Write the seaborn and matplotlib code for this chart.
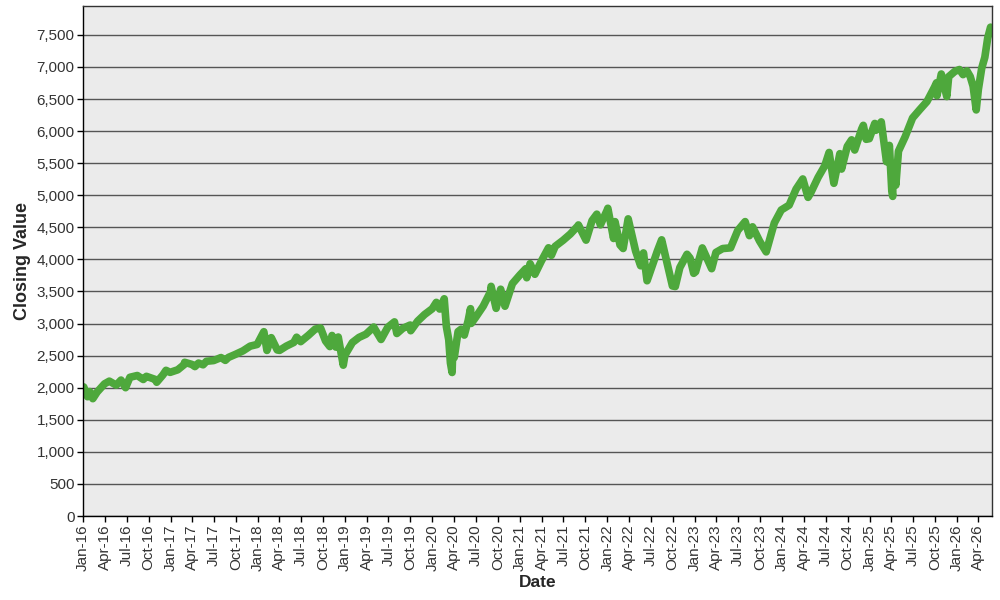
import pandas as pd
import matplotlib
matplotlib.use("Agg")
import matplotlib.pyplot as plt
import matplotlib.dates as mdates
import matplotlib.ticker as mticker
import seaborn as sns

# Closing values (key turning points, roughly biweekly)
dates = [
    "2016-01-04", "2016-01-20", "2016-01-29", "2016-02-11", "2016-02-29", "2016-03-31",
    "2016-04-20", "2016-05-19", "2016-06-08", "2016-06-27", "2016-07-15", "2016-08-15",
    "2016-09-09", "2016-09-22", "2016-10-31", "2016-11-04", "2016-11-30", "2016-12-13",
    "2016-12-30",
    "2017-01-31", "2017-02-28", "2017-03-01", "2017-03-31", "2017-04-13", "2017-04-28",
    "2017-05-17", "2017-05-31", "2017-06-30", "2017-07-31", "2017-08-18", "2017-08-31",
    "2017-09-29", "2017-10-31", "2017-11-30", "2017-12-29",
    "2018-01-26", "2018-02-08", "2018-02-26", "2018-03-23", "2018-04-02", "2018-04-30",
    "2018-05-31", "2018-06-12", "2018-06-29", "2018-07-31", "2018-08-29", "2018-09-20",
    "2018-10-11", "2018-10-29", "2018-11-07", "2018-11-23", "2018-12-03", "2018-12-24",
    "2018-12-31",
    "2019-01-31", "2019-02-28", "2019-03-29", "2019-04-30", "2019-05-31", "2019-06-28",
    "2019-07-26", "2019-08-05", "2019-08-30", "2019-09-30", "2019-10-02", "2019-10-31",
    "2019-11-29", "2019-12-31",
    "2020-01-17", "2020-01-31", "2020-02-19", "2020-02-28", "2020-03-09", "2020-03-16",
    "2020-03-23", "2020-03-26", "2020-04-01", "2020-04-17", "2020-04-30", "2020-05-13",
    "2020-05-29", "2020-06-08", "2020-06-11", "2020-06-30", "2020-07-31", "2020-08-31",
    "2020-09-02", "2020-09-23", "2020-10-12", "2020-10-30", "2020-11-30", "2020-12-31",
    "2021-01-25", "2021-01-29", "2021-02-12", "2021-03-04", "2021-03-31", "2021-04-30",
    "2021-05-12", "2021-05-28", "2021-06-30", "2021-07-30", "2021-08-31", "2021-09-02",
    "2021-10-04", "2021-10-29", "2021-11-18", "2021-11-30", "2021-12-03", "2021-12-31",
    "2022-01-03", "2022-01-27", "2022-02-02", "2022-02-23", "2022-03-08", "2022-03-29",
    "2022-04-29", "2022-05-20", "2022-06-01", "2022-06-16", "2022-07-29", "2022-08-16",
    "2022-09-30", "2022-10-12", "2022-10-31", "2022-11-30", "2022-12-13", "2022-12-28",
    "2023-01-05", "2023-02-02", "2023-03-13", "2023-03-31", "2023-04-28", "2023-05-31",
    "2023-06-30", "2023-07-31", "2023-08-18", "2023-08-31", "2023-09-29", "2023-10-27",
    "2023-11-30", "2023-12-29",
    "2024-01-31", "2024-02-29", "2024-03-28", "2024-04-19", "2024-04-30", "2024-05-31",
    "2024-06-28", "2024-07-16", "2024-08-05", "2024-08-30", "2024-09-06", "2024-09-30",
    "2024-10-18", "2024-10-31", "2024-11-29", "2024-12-06", "2024-12-18", "2024-12-31",
    "2025-01-23", "2025-01-27", "2025-02-19", "2025-03-13", "2025-03-25", "2025-04-04",
    "2025-04-08", "2025-04-09", "2025-04-21", "2025-05-02", "2025-05-30", "2025-06-30",
    "2025-07-31", "2025-08-29", "2025-09-30", "2025-10-08", "2025-10-10", "2025-10-28",
    "2025-11-20", "2025-11-28", "2025-12-24", "2026-01-12", "2026-01-27", "2026-02-12",
    "2026-02-26", "2026-03-10", "2026-03-23", "2026-04-01", "2026-04-15", "2026-04-28",
    "2026-05-10", "2026-05-22",
]
closes = [
    2012, 1859, 1940, 1829, 1932, 2060,
    2102, 2040, 2119, 2000, 2162, 2190,
    2128, 2177, 2126, 2085, 2199, 2271,
    2239,
    2279, 2364, 2396, 2363, 2329, 2384,
    2357, 2412, 2423, 2470, 2426, 2472,
    2519, 2575, 2648, 2674,
    2873, 2581, 2780, 2588, 2582, 2648,
    2705, 2787, 2718, 2816, 2914, 2931,
    2728, 2641, 2814, 2633, 2790, 2351,
    2507,
    2704, 2784, 2834, 2946, 2752, 2942,
    3026, 2845, 2926, 2977, 2888, 3038,
    3141, 3231,
    3330, 3226, 3386, 2954, 2747, 2386,
    2237, 2630, 2471, 2875, 2912, 2820,
    3044, 3232, 3002, 3100, 3271, 3500,
    3580, 3237, 3535, 3270, 3622, 3756,
    3855, 3714, 3934, 3768, 3973, 4181,
    4063, 4204, 4298, 4395, 4523, 4537,
    4300, 4605, 4705, 4567, 4538, 4766,
    4797, 4326, 4589, 4225, 4170, 4632,
    4132, 3901, 4101, 3667, 4130, 4305,
    3586, 3577, 3872, 4080, 4019, 3783,
    3808, 4179, 3855, 4109, 4169, 4180,
    4450, 4589, 4370, 4508, 4288, 4117,
    4568, 4770,
    4846, 5096, 5254, 4967, 5036, 5278,
    5460, 5667, 5186, 5648, 5408, 5762,
    5864, 5705, 6032, 6090, 5872, 5882,
    6119, 6012, 6144, 5522, 5777, 5074,
    4982, 5457, 5158, 5687, 5912, 6205,
    6339, 6460, 6688, 6753, 6552, 6890,
    6538, 6849, 6932, 6960, 6880, 6940,
    6850, 6700, 6330, 6650, 6980, 7150,
    7450, 7620,
]

df = pd.DataFrame({"Date": pd.to_datetime(dates), "Close": closes})

sns.set_theme(style="white")
plt.rcParams["font.family"] = ["Liberation Sans", "DejaVu Sans"]

fig = plt.figure(figsize=(10, 6), dpi=100)
ax = fig.add_axes([0.083, 0.14, 0.909, 0.85])
ax.set_facecolor("#ebebeb")

sns.lineplot(data=df, x="Date", y="Close", ax=ax, color="#4ea83c", linewidth=5.5)

ax.set_xlim(pd.Timestamp("2016-01-01"), pd.Timestamp("2026-05-28"))
ax.set_ylim(0, 7950)
ax.yaxis.set_major_locator(mticker.MultipleLocator(500))
ax.yaxis.set_major_formatter(mticker.StrMethodFormatter("{x:,.0f}"))
ax.xaxis.set_major_locator(mdates.MonthLocator(bymonth=[1, 4, 7, 10]))
ax.xaxis.set_major_formatter(mdates.DateFormatter("%b-%y"))

ax.grid(axis="y", color="#555555", linewidth=1)
ax.grid(axis="x", visible=False)
ax.set_axisbelow(True)
for s in ax.spines.values():
    s.set_color("#333333")
    s.set_linewidth(1)
ax.spines["left"].set_color("black")
ax.spines["bottom"].set_color("black")

ax.tick_params(axis="both", which="major", length=4, width=1, color="black",
               labelsize=11, labelcolor="#333333", direction="out",
               bottom=True, left=True, pad=2)
plt.setp(ax.get_xticklabels(), rotation=90)

ax.set_xlabel("Date", fontsize=12.5, fontweight="bold", labelpad=3)
ax.set_ylabel("Closing Value", fontsize=13, fontweight="bold", labelpad=4)

fig.savefig("out.png", dpi=100)
